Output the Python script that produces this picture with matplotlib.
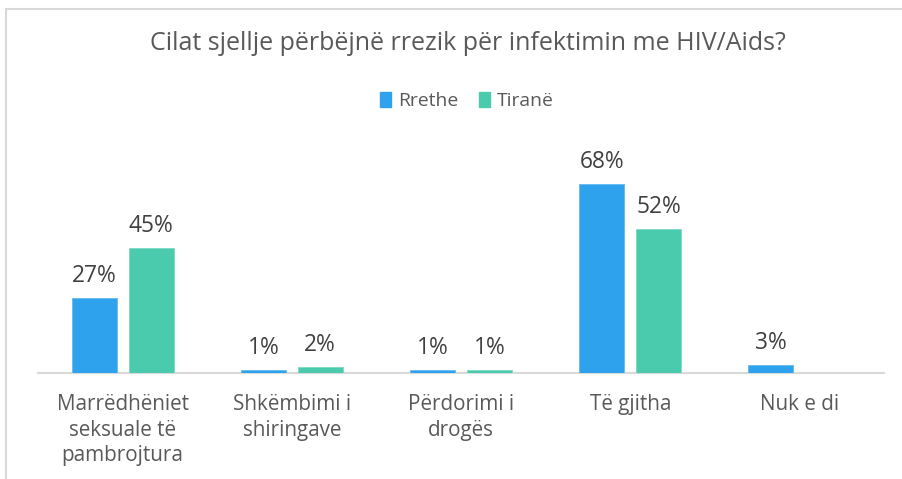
import matplotlib
matplotlib.use("Agg")
import matplotlib.pyplot as plt
from matplotlib.lines import Line2D
from matplotlib.patches import Patch
import numpy as np

# ---- data ----
categories = ["Marrëdhëniet\nseksuale të\npambrojtura", "Shkëmbimi i\nshiringave",
              "Përdorimi i\ndrogës", "Të gjitha", "Nuk e di"]
series_names = ["Rrethe", "Tiranë"]
rrethe = [27, 1, 1, 68, 3]
tirane = [45, 2, 1, 52, 0]
title_text = "Cilat sjellje përbëjnë rrezik për infektimin me HIV/Aids?"

# ---- style ----
FONT = "Open Sans"
plt.rcParams['font.family'] = [FONT, 'DejaVu Sans']
c_blue = "#2EA2EC"
c_teal = "#4BCBAE"
e_blue = "#6DBDF2"
e_teal = "#82DBC6"
txt_gray = "#595959"
lbl_gray = "#404040"
grid_gray = "#D9D9D9"

W, H = 902, 479
fig = plt.figure(figsize=(W / 100, H / 100), dpi=100)
fig.patch.set_facecolor("white")

def fx(px):
    return px / W

def fy(py):
    return 1 - py / H

# axes: baseline at y=373px, x from 38 to 884 px
top_px = 150
ax = fig.add_axes([fx(38), fy(373), fx(884 - 38), (373 - top_px) / H])
px_per_unit = 2.775
ax.set_ylim(0, (373 - top_px) / px_per_unit)
ax.set_xlim(-0.5, len(categories) - 0.5)

x = np.arange(len(categories))
bw = 0.266
off = 0.168
b1 = ax.bar(x - off, rrethe, bw, color=c_blue, edgecolor=e_blue, linewidth=0.7, label=series_names[0], zorder=3)
b2 = ax.bar(x + off, tirane, bw, color=c_teal, edgecolor=e_teal, linewidth=0.7, label=series_names[1], zorder=3)

renderer = fig.canvas.get_renderer()

def fit_size(s, target_px, base=12):
    t = fig.text(0, 0, s, fontsize=base)
    w = t.get_window_extent(renderer).width
    t.remove()
    return base * target_px / w

lbl_size = fit_size("45%", 45)
cat_size = fit_size("Marrëdhëniet", 131)
title_size = fit_size(title_text, 632)
leg_size = fit_size("Rrethe", 60)

for bars, vals in ((b1, rrethe), (b2, tirane)):
    for r, v in zip(bars, vals):
        if v <= 0:
            continue
        ax.annotate(f"{v}%", (r.get_x() + r.get_width() / 2, v), xytext=(0, 11.5),
                    textcoords="offset points", ha="center", va="baseline",
                    fontsize=lbl_size, color=lbl_gray)

for s in ("top", "right", "left"):
    ax.spines[s].set_visible(False)
ax.spines["bottom"].set_color(grid_gray)
ax.spines["bottom"].set_linewidth(1.5)
ax.set_yticks([])
ax.set_xticks(x)
ax.set_xticklabels(categories, fontsize=cat_size, color=txt_gray, linespacing=1.3)
ax.tick_params(axis="x", length=0, pad=15)
ax.patch.set_alpha(0)

fig.text(fx(468), fy(44), title_text, ha="center", va="center", fontsize=title_size, color=txt_gray)

handles = [Patch(facecolor=c_blue, edgecolor=c_blue), Patch(facecolor=c_teal, edgecolor=c_teal)]
fig.legend(handles, series_names, loc="center", bbox_to_anchor=(fx(467), fy(101)), ncol=2,
           frameon=False, fontsize=leg_size, labelcolor=txt_gray, handlelength=0.55,
           handleheight=0.8, handletextpad=0.35, columnspacing=1.1)

# outer chart frame (partially visible)
fig.add_artist(Line2D([fx(6), fx(6)], [0, fy(9)], color=grid_gray, lw=1.5))
fig.add_artist(Line2D([fx(6), 1], [fy(9), fy(9)], color=grid_gray, lw=1.5))

fig.savefig("out.png", dpi=100, facecolor="white")
